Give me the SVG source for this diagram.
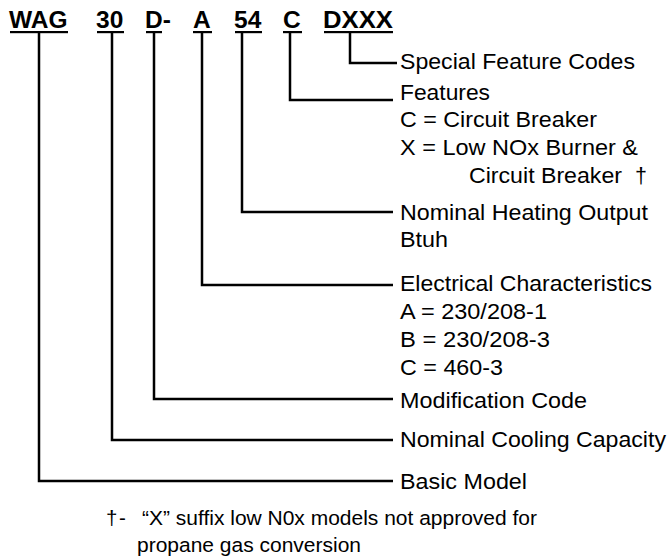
<svg xmlns="http://www.w3.org/2000/svg" width="671" height="558" viewBox="0 0 671 558">
<style>
.code{font-family:"Liberation Sans",Arial,Helvetica,sans-serif;font-weight:bold;font-size:24.5px;fill:#000}
.lbl{font-family:"Liberation Sans",Arial,Helvetica,sans-serif;font-size:21.5px;fill:#000}
.note{font-family:"Liberation Sans",Arial,Helvetica,sans-serif;font-size:20.5px;fill:#000}
.ul{fill:#000}
.conn{fill:none;stroke:#000;stroke-width:2.5;stroke-linejoin:miter}
</style>
<rect width="671" height="558" fill="#fff"/>

<g id="code-WAG"><text class="code" x="9" y="28">WAG</text><rect class="ul" x="10" y="31" width="58" height="2.2"/></g>
<g id="code-30"><text class="code" x="96" y="28">30</text><rect class="ul" x="97" y="31" width="27" height="2.2"/></g>
<g id="code-D"><text class="code" x="145" y="28">D-</text><rect class="ul" x="146" y="31" width="16" height="2.2"/></g>
<g id="code-A"><text class="code" x="193" y="28">A</text><rect class="ul" x="193" y="31" width="19" height="2.2"/></g>
<g id="code-54"><text class="code" x="234" y="28">54</text><rect class="ul" x="235" y="31" width="27" height="2.2"/></g>
<g id="code-C"><text class="code" x="283" y="28">C</text><rect class="ul" x="283" y="31" width="19" height="2.2"/></g>
<g id="code-DXXX"><text class="code" x="323" y="28" textLength="70" lengthAdjust="spacingAndGlyphs">DXXX</text><rect class="ul" x="324" y="31" width="69" height="2.2"/></g>

<g id="connectors">
<polyline class="conn" points="350,33 350,63 397,63"/>
<polyline class="conn" points="290,33 290,100 393,100"/>
<polyline class="conn" points="242,33 242,212 393,212"/>
<polyline class="conn" points="202,33 202,285 393,285"/>
<polyline class="conn" points="154,33 154,399 393,399"/>
<polyline class="conn" points="112,33 112,440 393,440"/>
<polyline class="conn" points="39,33 39,481 393,481"/>
</g>

<g id="label-special"><text class="lbl" x="400" y="69" textLength="235" lengthAdjust="spacingAndGlyphs">Special Feature Codes</text></g>
<g id="label-features">
<text class="lbl" x="400" y="100" textLength="90" lengthAdjust="spacingAndGlyphs">Features</text>
<text class="lbl" x="400" y="127" textLength="197" lengthAdjust="spacingAndGlyphs">C = Circuit Breaker</text>
<text class="lbl" x="400" y="155" textLength="238" lengthAdjust="spacingAndGlyphs">X = Low NOx Burner &amp;</text>
<text class="lbl" x="469" y="183" textLength="153" lengthAdjust="spacingAndGlyphs">Circuit Breaker</text>
<text class="lbl" x="635" y="183">†</text>
</g>
<g id="label-heating">
<text class="lbl" x="400" y="220" textLength="248" lengthAdjust="spacingAndGlyphs">Nominal Heating Output</text>
<text class="lbl" x="400" y="247" textLength="48" lengthAdjust="spacingAndGlyphs">Btuh</text>
</g>
<g id="label-electrical">
<text class="lbl" x="400" y="291" textLength="252" lengthAdjust="spacingAndGlyphs">Electrical Characteristics</text>
<text class="lbl" x="400" y="319" textLength="147" lengthAdjust="spacingAndGlyphs">A = 230/208-1</text>
<text class="lbl" x="400" y="347" textLength="150" lengthAdjust="spacingAndGlyphs">B = 230/208-3</text>
<text class="lbl" x="400" y="375" textLength="103" lengthAdjust="spacingAndGlyphs">C = 460-3</text>
</g>
<g id="label-modification"><text class="lbl" x="400" y="408" textLength="187" lengthAdjust="spacingAndGlyphs">Modification Code</text></g>
<g id="label-cooling"><text class="lbl" x="400" y="447" textLength="266" lengthAdjust="spacingAndGlyphs">Nominal Cooling Capacity</text></g>
<g id="label-basic"><text class="lbl" x="400" y="489" textLength="127" lengthAdjust="spacingAndGlyphs">Basic Model</text></g>

<g id="footnote">
<text class="note" x="106" y="525">†</text>
<text class="note" x="119" y="525">-</text>
<text class="note" x="142" y="525" textLength="395" lengthAdjust="spacingAndGlyphs">“X” suffix low  N0x models not approved for</text>
<text class="note" x="137" y="552" textLength="224" lengthAdjust="spacingAndGlyphs">propane gas conversion</text>
</g>
</svg>
